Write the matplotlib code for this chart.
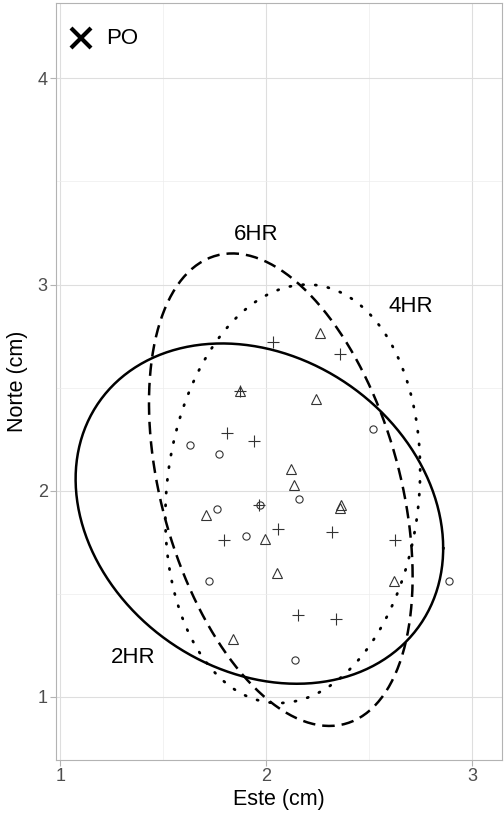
import numpy as np
import matplotlib
matplotlib.use("Agg")
import matplotlib.pyplot as plt
from matplotlib.ticker import MultipleLocator

plt.rcParams['font.family'] = ['Liberation Sans', 'DejaVu Sans']

## points (Este, Norte)
circ_x = [1.63, 1.77, 2.16, 1.97, 1.76, 1.90, 1.72, 2.14, 2.52, 2.89]
circ_y = [2.22, 2.18, 1.96, 1.93, 1.91, 1.78, 1.56, 1.18, 2.30, 1.56]

tri_x = [2.26, 1.874, 2.243, 2.121, 2.133, 2.364, 2.359, 1.706, 1.994, 2.053, 1.838, 2.621]
tri_y = [2.767, 2.482, 2.445, 2.107, 2.03, 1.932, 1.916, 1.883, 1.767, 1.603, 1.283, 1.56]

plus_x = [2.034, 2.358, 1.874, 1.808, 1.942, 1.966, 2.058, 2.319, 1.793, 2.624, 2.153, 2.338]
plus_y = [2.723, 2.664, 2.482, 2.28, 2.24, 1.929, 1.814, 1.801, 1.762, 1.76, 1.398, 1.377]

## PO position
po_x, po_y = 1.1015, 4.195

## ellipses: name, center, covariance-like shape (sxx, syy, sxy), label position
ell_names = ['2HR', '4HR', '6HR']
ell_cx = [1.967, 2.129, 2.071]
ell_cy = [1.889, 1.985, 2.005]
ell_sxx = [0.797, 0.383, 0.41]
ell_syy = [0.681, 1.03, 1.313]
ell_sxy = [-0.15, 0.07, -0.27]
lab_x = [1.352, 2.701, 1.951]
lab_y = [1.191, 2.892, 3.242]

styles = {'2HR': '-', '4HR': (0, (0.4, 4.2)), '6HR': (0, (5, 2.8))}

fig = plt.figure(figsize=(5.04, 8.17), dpi=100)
W, H = 504, 817
ax = fig.add_axes([56 / W, (H - 760) / H, (501.7 - 56) / W, (760 - 3.3) / H])

t = np.linspace(0, 2 * np.pi, 300)
for i, name in enumerate(ell_names):
    S = np.array([[ell_sxx[i], ell_sxy[i]], [ell_sxy[i], ell_syy[i]]])
    L = np.linalg.cholesky(S)
    pts = L @ np.vstack([np.cos(t), np.sin(t)])
    ax.plot(ell_cx[i] + pts[0], ell_cy[i] + pts[1], color='black',
            lw=2.0 if name == '4HR' else 1.8,
            linestyle=styles[name], dash_capstyle='round' if name == '4HR' else 'butt',
            zorder=3)
    ax.text(lab_x[i], lab_y[i], name, fontsize=16, ha='center', va='center', color='black')

mk = dict(linestyle='none', color='#333333', mfc='none', mew=0.8, zorder=4)
ax.plot(circ_x, circ_y, marker='o', ms=5.2, **mk)
ax.plot(tri_x, tri_y, marker='^', ms=7.2, **mk)
ax.plot(plus_x, plus_y, marker='+', ms=8, **mk)

ax.plot([po_x], [po_y], marker='x', ms=15, mew=3, color='black', linestyle='none')
ax.text(po_x + 0.12, po_y, 'PO', fontsize=16, ha='left', va='center', color='black')

ax.set_xlim(0.979, 3.144)
ax.set_ylim(0.694, 4.364)
ax.xaxis.set_major_locator(MultipleLocator(1))
ax.yaxis.set_major_locator(MultipleLocator(1))
ax.xaxis.set_minor_locator(MultipleLocator(0.5))
ax.yaxis.set_minor_locator(MultipleLocator(0.5))
ax.grid(which='major', color='#DEDEDE', lw=0.8)
ax.grid(which='minor', color='#EDEDED', lw=0.5)
ax.set_axisbelow(True)
for s in ax.spines.values():
    s.set_color('#B3B3B3')
    s.set_linewidth(0.8)
ax.tick_params(which='major', length=4, width=0.8, color='#B3B3B3',
               labelsize=13, labelcolor='#4D4D4D', pad=2)
ax.tick_params(which='minor', length=0)

ax.set_xlabel('Este (cm)', fontsize=15.5, color='black', labelpad=3)
ax.set_ylabel('Norte (cm)', fontsize=15.5, color='black', labelpad=7)

fig.savefig('out.png', dpi=100)
